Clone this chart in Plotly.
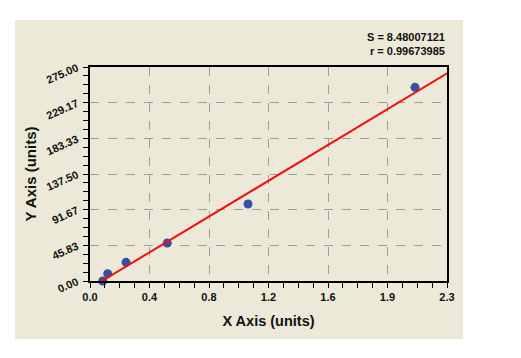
import plotly.graph_objects as go

# Data
x_points = [0.082, 0.114, 0.232, 0.498, 1.018, 2.094]
y_points = [0.0, 9.4, 24.0, 48.8, 98.9, 248.9]

fit_x = [0.064, 2.31]
fit_y = [-1.5, 268.0]

x_tickvals = [0.0, 0.38333, 0.76667, 1.15, 1.53333, 1.91667, 2.3]
x_ticktext = ["0.0", "0.4", "0.8", "1.2", "1.6", "1.9", "2.3"]
y_tickvals = [0.0, 45.833, 91.667, 137.5, 183.333, 229.167, 275.0]
y_ticktext = ["0.00", "45.83", "91.67", "137.50", "183.33", "229.17", "275.00"]

stats_lines = ["S = 8.48007121", "r = 0.99673985"]

FONT = "Liberation Sans, Arial, sans-serif"

fig = go.Figure()
fig.add_trace(go.Scatter(x=x_points, y=y_points, mode="markers",
                         marker=dict(color="#3450A8", size=9),
                         showlegend=False, cliponaxis=False))
fig.add_trace(go.Scatter(x=fit_x, y=fit_y, mode="lines",
                         line=dict(color="#F01010", width=2),
                         showlegend=False, cliponaxis=False))

# beige panel behind the chart
fig.add_shape(type="rect", xref="paper", yref="paper",
              x0=-75/357, x1=373/357, y0=-58/214, y1=261/214,
              fillcolor="#ECE9D8", line=dict(width=0), layer="below")

axis_common = dict(
    showline=True, linecolor="black", linewidth=1.5, mirror=True,
    ticks="outside", ticklen=5, tickcolor="black",
    showgrid=True, gridcolor="#A09D95", griddash="dash", gridwidth=1,
    zeroline=False, tickmode="array", automargin=False,
    tickfont=dict(family=FONT, size=11, color="#111", weight="bold"),
)

fig.update_xaxes(**axis_common, range=[0, 2.3],
                 tickvals=x_tickvals, ticktext=x_ticktext,
                 minor=dict(ticks="outside", ticklen=5, tick0=0, dtick=2.3/24,
                            tickcolor="black", showgrid=False),
                 title=dict(text="X Axis (units)", standoff=14,
                            font=dict(family=FONT, size=14.5, color="#111", weight="bold")))
fig.update_yaxes(**axis_common, range=[0, 275],
                 tickvals=y_tickvals, ticktext=y_ticktext, tickangle=-24,
                 ticklabelstandoff=4,
                 minor=dict(ticks="outside", ticklen=5, tick0=0, dtick=275/24,
                            tickcolor="black", showgrid=False),
                 title=dict(text="Y Axis (units)", standoff=4,
                            font=dict(family=FONT, size=15, color="#111", weight="bold")))

for i, t in enumerate(stats_lines):
    fig.add_annotation(xref="paper", yref="paper", x=1.0, y=(281 - 37 - 14 * i) / 214,
                       text=t, showarrow=False, xanchor="right", yanchor="middle",
                       font=dict(family=FONT, size=11, color="#111", weight="bold"))

# page body adds an 8px offset, so the figure is drawn 8px smaller with 8px less margin
fig.update_layout(width=513, height=350,
                  margin=dict(l=82, r=74, t=59, b=77, autoexpand=False),
                  paper_bgcolor="white", plot_bgcolor="white")

fig.write_html("out.html")
